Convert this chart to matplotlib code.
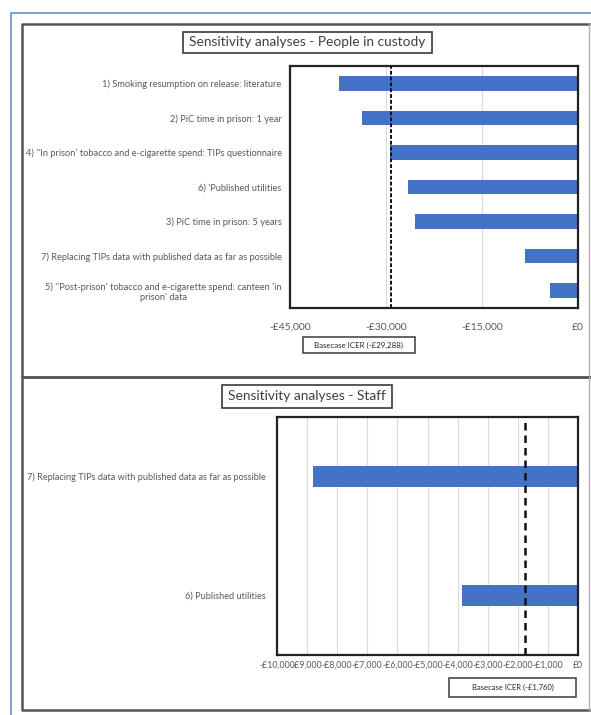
import matplotlib
matplotlib.use("Agg")
import matplotlib.pyplot as plt
from matplotlib.patches import Rectangle
from matplotlib.lines import Line2D

# ---------------- data ----------------
pic_labels = [
    "1) Smoking resumption on release: literature",
    "2) PiC time in prison: 1 year",
    "4) ''In prison' tobacco and e-cigarette spend: TIPs questionnaire",
    "6) 'Published utilities",
    "3) PiC time in prison: 5 years",
    "7) Replacing TIPs data with published data as far as possible",
    "5) ''Post-prison' tobacco and e-cigarette spend: canteen 'in\nprison' data",
]
pic_values = [-37400, -33700, -29300, -26500, -25500, -8250, -4300]
pic_base = -29288
pic_ticks = [-45000, -30000, -15000, 0]
pic_ticklabels = ["-£45,000", "-£30,000", "-£15,000", "£0"]

staff_labels = [
    "7) Replacing TIPs data with published data as far as possible",
    "6) Published utilities",
]
staff_values = [-8800, -3850]
staff_base = -1760
staff_ticks = [-10000, -9000, -8000, -7000, -6000, -5000, -4000, -3000, -2000, -1000, 0]
staff_ticklabels = ["-£10,000", "-£9,000", "-£8,000", "-£7,000", "-£6,000", "-£5,000",
                    "-£4,000", "-£3,000", "-£2,000", "-£1,000", "£0"]

# ---------------- layout ----------------
W, H = 591, 715
plt.rcParams['font.family'] = ['Lato', 'DejaVu Sans']
fig = plt.figure(figsize=(W / 100, H / 100), dpi=100)
fig.patch.set_facecolor("white")

def rect(l, t, r, b):
    return [l / W, 1 - b / H, (r - l) / W, (b - t) / H]

def fx(x):
    return x / W

def fy(y):
    return 1 - y / H

BAR = "#4472C4"
GRAY = "#595959"
FRAME = "#3a3a3a"

# outer blue border (top + left)
fig.add_artist(Line2D([fx(11), fx(11), fx(591)], [fy(715), fy(13), fy(13)],
                      color="#6f98cf", lw=1.3))
# panel frames
for (t, b) in [(24, 377), (377, 710)]:
    fig.add_artist(Line2D([fx(589), fx(22), fx(22), fx(589)], [fy(t), fy(t), fy(b), fy(b)],
                          color="#555555", lw=1.8))
    fig.add_artist(Line2D([fx(589), fx(589)], [fy(t), fy(b)], color="#b0b0b0", lw=1.0))

def boxed_text(l, t, r, b, text, size, color="#404040", lw=1.2):
    fig.add_artist(Rectangle((fx(l), fy(b)), (r - l) / W, (b - t) / H,
                             transform=fig.transFigure, facecolor="white",
                             edgecolor=FRAME, lw=lw))
    fig.text(fx((l + r) / 2), fy((t + b) / 2), text, ha="center", va="center",
             fontsize=size, color=color)

def style_axes(ax, ticks, ticklabels, xpad, ypad, lsize, tsize):
    ax.set_xticks(ticks)
    ax.set_xticklabels(ticklabels)
    ax.tick_params(axis="x", length=0, pad=xpad, labelsize=tsize, labelcolor=GRAY)
    ax.tick_params(axis="y", length=0, pad=ypad, labelsize=lsize, labelcolor=GRAY)
    for lab in ax.get_yticklabels():
        lab.set_multialignment("center")
    ax.grid(axis="x", color="#d9d9d9", lw=0.8)
    ax.set_axisbelow(True)
    for s in ax.spines.values():
        s.set_color("#222222")
        s.set_linewidth(1.6)

# ---------- top chart ----------
boxed_text(183, 32, 432, 53, "Sensitivity analyses - People in custody", 9.9)
ax1 = fig.add_axes(rect(290, 66, 578, 308))
y1 = list(range(len(pic_labels)))
ax1.barh(y1, pic_values, height=0.42, color=BAR, zorder=2)
ax1.set_yticks(y1)
ax1.set_yticklabels(pic_labels)
ax1.set_ylim(len(pic_labels) - 0.5, -0.5)
ax1.set_xlim(-45000, 0)
ax1.axvline(pic_base, color="#111111", lw=1.4, ls=(0, (2.0, 1.0)), zorder=3)
style_axes(ax1, pic_ticks, pic_ticklabels, 10.5, 6, 6.7, 7.4)
boxed_text(303, 337, 415, 353, "Basecase ICER (-£29,288)", 5.7, color="#262626", lw=1.1)

# ---------- staff chart ----------
boxed_text(222, 385, 392, 408, "Sensitivity analyses - Staff", 9.9)
ax2 = fig.add_axes(rect(277, 417, 578, 655))
y2 = list(range(len(staff_labels)))
ax2.barh(y2, staff_values, height=0.18, color=BAR, zorder=2)
ax2.set_yticks(y2)
ax2.set_yticklabels(staff_labels)
ax2.set_ylim(len(staff_labels) - 0.5, -0.5)
ax2.set_xlim(-10000, 0)
ax2.axvline(staff_base, color="#111111", lw=1.8, ls=(0, (3.0, 2.0)), zorder=3)
style_axes(ax2, staff_ticks, staff_ticklabels, 4, 8, 6.6, 6.3)
boxed_text(449, 678, 576, 697, "Basecase ICER (-£1,760)", 5.5, color="#262626", lw=1.1)

fig.savefig("out.png", dpi=100, facecolor="white")
